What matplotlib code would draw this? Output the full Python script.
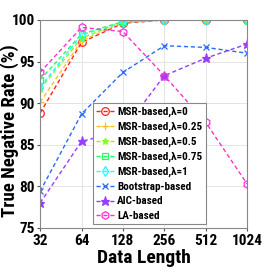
import numpy as np
import matplotlib
matplotlib.use("Agg")
import matplotlib.pyplot as plt

plt.rcParams['font.family'] = ['Liberation Sans Narrow', 'Roboto Condensed',
                               'Liberation Sans', 'DejaVu Sans']

#-------------- data ---------------------
lengths = [32, 64, 128, 256, 512, 1024]
msr_0 = [88.8, 97.3, 99.6, 100, 100, 100]
msr_025 = [90.1, 97.5, 99.7, 100, 100, 100]
msr_05 = [91.7, 97.8, 99.8, 100, 100, 100]
msr_075 = [92.8, 98.3, 99.8, 100, 100, 100]
msr_1 = [91.9, 98.2, 99.7, 100, 100, 100]
bootstrap = [79.4, 88.7, 93.7, 96.9, 96.7, 96.0]
aic = [78.0, 85.4, 86.7, 93.3, 95.4, 97.1]
la = [93.7, 99.1, 98.6, 93.3, 87.7, 80.3]
labels = ["MSR-based,λ=0", "MSR-based,λ=0.25", "MSR-based,λ=0.5",
          "MSR-based,λ=0.75", "MSR-based,λ=1", "Bootstrap-based",
          "AIC-based", "LA-based"]
#-----------------------------------------

series = [msr_0, msr_025, msr_05, msr_075, msr_1, bootstrap, aic, la]
colors = ["#ff2020", "#ffc020", "#80ff20", "#20ff60", "#20ffff",
          "#2a6aff", "#9a3cff", "#ff30d0"]
markers = ["o", "+", "*", "s", "d", "x", "*", "h"]
sizes = [5.5, 6, 5, 4.5, 5.5, 4.5, 6.5, 5.5]

fig = plt.figure(figsize=(2.73, 2.73), dpi=100)
ax = fig.add_axes([0.147, 0.165, 0.758, 0.762])

for vals, c, m, s, lab in zip(series, colors, markers, sizes, labels):
    face = c if m == "*" else "none"
    ax.plot(lengths, vals, linestyle=(0, (3, 2)), color=c, lw=1.0,
            marker=m, markersize=s, markerfacecolor=face,
            markeredgecolor=c, markeredgewidth=0.9, label=lab)

ax.set_xscale('log', base=2)
ax.set_xticks(lengths)
ax.set_xticklabels([str(v) for v in lengths])
ax.minorticks_off()
ax.set_xlim(32, 1024)
ax.set_ylim(75, 100)
ax.set_yticks([75, 80, 85, 90, 95, 100])
ax.grid(True, color="#e4e4e4", lw=0.7)
ax.set_axisbelow(True)
ax.tick_params(labelsize=11, length=2, color="#555555", pad=2)
for lbl in ax.get_xticklabels() + ax.get_yticklabels():
    lbl.set_fontweight("bold")
for sp in ax.spines.values():
    sp.set_color("#888888")
    sp.set_linewidth(0.8)

ax.set_xlabel("Data Length", fontsize=14, fontweight="bold", labelpad=1)
ax.set_ylabel("True Negative Rate (%)", fontsize=13.5, fontweight="bold")
ax.yaxis.set_label_coords(-0.1, 0.47)

leg = ax.legend(loc="upper left", bbox_to_anchor=(0.255, 0.6),
                prop={"size": 8, "weight": "bold"},
                fancybox=False, framealpha=1, edgecolor="#888888",
                handlelength=1.6, handletextpad=0.3, labelspacing=0.42,
                borderpad=0.3, borderaxespad=0)
leg.get_frame().set_linewidth(0.8)

fig.savefig("out.png", dpi=100)
